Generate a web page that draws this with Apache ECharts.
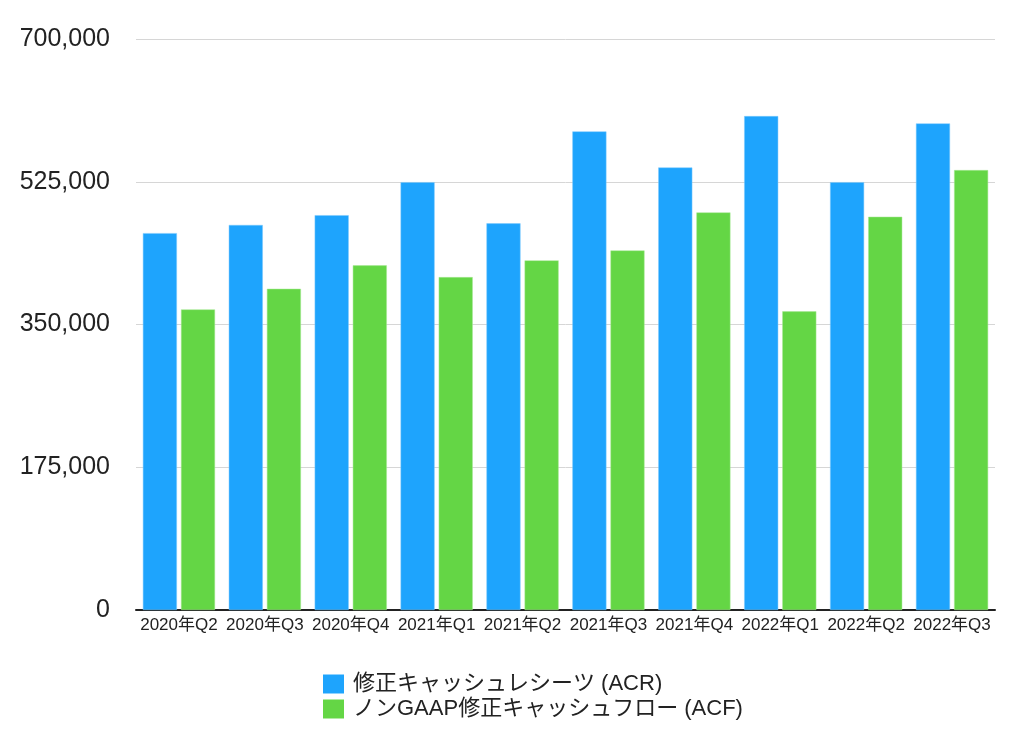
<!DOCTYPE html>
<html><head><meta charset="utf-8">
<script src="https://cdn.jsdelivr.net/npm/echarts@6/dist/echarts.min.js"></script>
<style>html,body{margin:0;padding:0;background:#fff}#c{width:1024px;height:734px}</style>
</head><body><div id="c"></div>
<script>
const categories = ['2020年Q2','2020年Q3','2020年Q4','2021年Q1','2021年Q2','2021年Q3','2021年Q4','2022年Q1','2022年Q2','2022年Q3'];
const seriesNames = ['修正キャッシュレシーツ (ACR)','ノンGAAP修正キャッシュフロー (ACF)'];
const acr = [462000,472000,484000,524500,474000,586700,542500,605500,524500,596500];
const acf = [368500,393800,422500,408100,428600,440800,487400,366100,482100,539300];
const yTicks = [0,175000,350000,525000,700000];

const FONT = '"Liberation Sans","Noto Sans CJK JP",sans-serif';
const chart = echarts.init(document.getElementById('c'));
chart.setOption({
  animation:false,
  textStyle:{fontFamily:FONT},
  grid:{left:136,right:29,top:39,bottom:124},
  legend:{
    orient:'vertical', left:318, top:668,
    icon:'rect',
    itemWidth:21, itemHeight:19, itemGap:3,
    itemStyle:{borderWidth:0},
    textStyle:{fontSize:22,color:'#222',fontFamily:FONT,padding:[0,0,0,4]},
    data:seriesNames
  },
  xAxis:{
    type:'category', data:categories,
    axisLine:{lineStyle:{color:'#222',width:2}},
    axisTick:{show:false},
    axisLabel:{fontSize:17,color:'#222',margin:7,interval:0,hideOverlap:false}
  },
  yAxis:{
    type:'value', min:yTicks[0], max:yTicks[yTicks.length-1], interval:175000,
    axisLine:{show:false}, axisTick:{show:false},
    splitLine:{lineStyle:{color:'#d6d6d6',width:1}},
    axisLabel:{fontSize:25,color:'#222',margin:26,
      formatter:v=>v.toLocaleString('en-US')}
  },
  series:[
    {name:seriesNames[0],type:'bar',data:acr,barGap:'12%',barCategoryGap:'16%',
     itemStyle:{color:'#1EA4FD',borderColor:'#7cc8fd',borderWidth:0.5}},
    {name:seriesNames[1],type:'bar',data:acf,
     itemStyle:{color:'#64D645',borderColor:'#a9e897',borderWidth:0.5}}
  ]
});
</script></body></html>
